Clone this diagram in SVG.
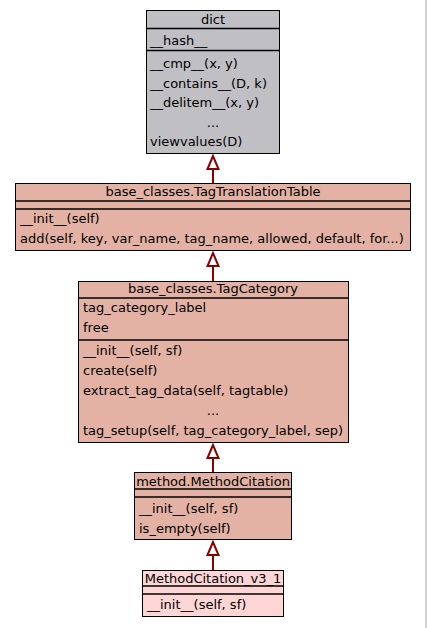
<svg xmlns="http://www.w3.org/2000/svg" width="427" height="628" viewBox="0 0 427 628">
<style>
text{font-family:"DejaVu Sans",sans-serif;font-size:13px;fill:#000}
.c{text-anchor:middle}
.box{stroke:#000;stroke-width:1}
.sep{stroke:#000;stroke-width:1.3}
.gray{fill:#c0bfc4}
.sal{fill:#e3b2a4}
.pink{fill:#fdd5d5}
.edge{stroke:#8b0000;stroke-width:2;fill:none}
.head{stroke:#8b0000;stroke-width:2;fill:#fff}
</style>
<rect width="427" height="628" fill="#fff"/>
<line x1="426" y1="0" x2="426" y2="628" stroke="#a0a0a0" stroke-width="1"/>
<g id="edges">
<line class="edge" x1="213" y1="183" x2="213" y2="168"/>
<polygon class="head" points="213,156 207.5,169 218.5,169"/>
<line class="edge" x1="213" y1="281" x2="213" y2="265"/>
<polygon class="head" points="213,253 207.5,266 218.5,266"/>
<line class="edge" x1="213" y1="472" x2="213" y2="458"/>
<polygon class="head" points="213,445 207.5,458 218.5,458"/>
<line class="edge" x1="213" y1="570" x2="213" y2="555"/>
<polygon class="head" points="213,542 207.5,555 218.5,555"/>
</g>
<g id="dict">
<rect class="box gray" x="146.5" y="10.5" width="133" height="143"/>
<line class="sep" x1="146.5" y1="28.5" x2="279.5" y2="28.5"/>
<line class="sep" x1="146.5" y1="50.5" x2="279.5" y2="50.5"/>
<text class="c" x="213" y="23.5">dict</text>
<text x="150" y="44.5">__hash__</text>
<text x="150" y="68">__cmp__(x, y)</text>
<text x="150" y="87.5">__contains__(D, k)</text>
<text x="150" y="107">__delitem__(x, y)</text>
<text class="c" x="213" y="126.5">...</text>
<text x="150" y="146">viewvalues(D)</text>
</g>
<g id="TagTranslationTable">
<rect class="box sal" x="15.5" y="183.5" width="395" height="67"/>
<line class="sep" x1="15.5" y1="201" x2="410.5" y2="201"/>
<line class="sep" x1="15.5" y1="209" x2="410.5" y2="209"/>
<text class="c" x="213" y="196">base_classes.TagTranslationTable</text>
<text x="20" y="223">__init__(self)</text>
<text x="20" y="243">add(self, key, var_name, tag_name, allowed, default, for...)</text>
</g>
<g id="TagCategory">
<rect class="box sal" x="78.5" y="281.5" width="270" height="161"/>
<line class="sep" x1="78.5" y1="298" x2="348.5" y2="298"/>
<line class="sep" x1="78.5" y1="340" x2="348.5" y2="340"/>
<text class="c" x="213" y="293">base_classes.TagCategory</text>
<text x="83" y="312">tag_category_label</text>
<text x="83" y="332">free</text>
<text x="83" y="354.5">__init__(self, sf)</text>
<text x="83" y="374.5">create(self)</text>
<text x="83" y="394.5">extract_tag_data(self, tagtable)</text>
<text class="c" x="213" y="415">...</text>
<text x="83" y="435">tag_setup(self, tag_category_label, sep)</text>
</g>
<g id="MethodCitation">
<rect class="box sal" x="134.5" y="472.5" width="157" height="67"/>
<line class="sep" x1="134.5" y1="489" x2="291.5" y2="489"/>
<line class="sep" x1="134.5" y1="497" x2="291.5" y2="497"/>
<text class="c" x="213" y="485.5">method.MethodCitation</text>
<text x="139" y="513">__init__(self, sf)</text>
<text x="139" y="532.5">is_empty(self)</text>
</g>
<g id="MethodCitation_v3_1">
<rect class="box pink" x="142.5" y="570.5" width="141" height="46"/>
<line class="sep" x1="142.5" y1="586" x2="283.5" y2="586"/>
<line class="sep" x1="142.5" y1="594" x2="283.5" y2="594"/>
<text class="c" x="213" y="582.5">MethodCitation_v3_1</text>
<text x="147" y="609">__init__(self, sf)</text>
</g>
</svg>
